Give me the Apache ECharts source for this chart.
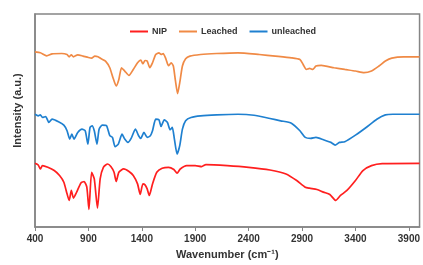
<!DOCTYPE html>
<html>
<head>
<meta charset="utf-8">
<script src="https://cdn.jsdelivr.net/npm/echarts@6/dist/echarts.min.js"></script>
<style>
    html, body { margin: 0; padding: 0; background: #fff; }
    #chart { width: 423px; height: 265px; }
</style>
</head>
<body>
<div id="chart"></div>
<script>
// FTIR spectra, intensity in arbitrary units (offset per sample)
const leachedWn = [400, 450, 510, 560, 650, 700, 720, 740, 760, 800, 850, 900, 930, 960, 990, 1020, 1060, 1100, 1130, 1160, 1185, 1210, 1240, 1280, 1320, 1360, 1390, 1410, 1430, 1450, 1475, 1500, 1530, 1560, 1580, 1600, 1625, 1650, 1675, 1695, 1715, 1735, 1755, 1780, 1810, 1850, 1950, 2100, 2300, 2500, 2650, 2800, 2880, 2910, 2940, 2970, 3000, 3030, 3080, 3200, 3300, 3400, 3480, 3550, 3620, 3680, 3740, 3850, 4000]
const leachedVal = [176, 175, 172, 174, 174.3, 173.3, 171, 173, 171, 173, 171.7, 170.3, 169.7, 171.7, 171, 169, 166.7, 160, 150, 141.7, 148.3, 160, 156.7, 152.3, 158.3, 165, 167.7, 164, 167.3, 166.7, 160, 165, 173.3, 175, 173.3, 174.3, 169, 162, 165, 161.7, 146.7, 134, 145, 161.7, 169, 171.7, 173.3, 174.3, 175, 173.3, 171.7, 170, 168.3, 163.3, 158.3, 159.3, 158.3, 161.7, 162.3, 160, 158.3, 156.7, 155, 156.7, 161.7, 166.7, 169.7, 171, 171]

const unleachedWn = [400, 430, 450, 470, 500, 530, 560, 620, 670, 700, 725, 745, 765, 800, 840, 870, 895, 915, 935, 955, 980, 1000, 1030, 1070, 1100, 1125, 1150, 1180, 1215, 1240, 1270, 1300, 1340, 1370, 1390, 1420, 1450, 1480, 1500, 1530, 1560, 1580, 1610, 1640, 1665, 1685, 1705, 1730, 1755, 1780, 1810, 1860, 1950, 2100, 2300, 2450, 2600, 2700, 2800, 2880, 2930, 2980, 3030, 3100, 3170, 3210, 3250, 3300, 3400, 3500, 3600, 3680, 3750, 4000]
const unleachedVal = [113.3, 111.7, 112.7, 110, 111, 105, 108.3, 105.7, 102.3, 96.7, 88.3, 93.3, 88.3, 95, 98.3, 96.7, 83.3, 100, 101.7, 96.7, 83.3, 98.3, 102.3, 101.7, 91.7, 90, 80.7, 83.3, 93.3, 88.3, 85, 89, 98.3, 91.7, 89, 95, 90, 91.7, 96.7, 108.3, 107.7, 101, 107.7, 105, 97.7, 100, 88.3, 73.3, 81.7, 98.3, 106.7, 110, 111.7, 112.7, 113.3, 112.3, 109, 106.7, 104.3, 96.7, 90, 89, 90, 87.7, 85, 82.3, 85, 85.7, 92.3, 100, 108.3, 112.7, 113.3, 113.3]

const nipWn = [400, 430, 450, 470, 520, 580, 630, 670, 700, 720, 740, 760, 790, 830, 860, 885, 905, 930, 955, 985, 1010, 1040, 1080, 1110, 1140, 1160, 1185, 1230, 1280, 1320, 1360, 1385, 1410, 1430, 1450, 1470, 1500, 1540, 1590, 1650, 1700, 1730, 1760, 1820, 1900, 1960, 2000, 2200, 2400, 2600, 2750, 2850, 2930, 2970, 3040, 3100, 3160, 3215, 3260, 3320, 3400, 3470, 3550, 3650, 4000]
const nipVal = [64, 62.3, 58.3, 61.7, 60, 56.7, 51.7, 45, 33.3, 26.7, 36.7, 29, 35, 44.3, 45.7, 40, 17.7, 55, 48.3, 19, 48.3, 60, 63.3, 60.7, 55, 45.7, 55, 58.3, 55.7, 51.7, 43.3, 32.7, 43.3, 42.3, 38.3, 31.7, 43.3, 55, 59, 60, 57.7, 54, 58.3, 61.7, 61.7, 60.7, 62.7, 61.7, 60, 57.3, 53.3, 46.7, 40, 39, 37.7, 35, 32.7, 26.7, 31.7, 36.7, 46.7, 56.7, 61.7, 63.7, 64]

const seriesNames = ["NIP", "Leached", "unleached"]
const seriesColors = ["#ff1f1f", "#f08a45", "#1f80d0"]

const zip = (xs, ys) => xs.map((x, i) => [x, ys[i]])
const seriesData = [
    zip(nipWn, nipVal),
    zip(leachedWn, leachedVal),
    zip(unleachedWn, unleachedVal),
]

const font = "Liberation Sans, Arial, sans-serif"
const frameColor = "#858585"

const chart = echarts.init(document.getElementById("chart"), null, { renderer: "canvas" })

chart.setOption({
    animation: false,
    backgroundColor: "#fff",
    textStyle: { fontFamily: font },
    grid: {
        left: 35, right: 2, top: 14, bottom: 37,
        show: true,
        borderColor: frameColor,
        borderWidth: 1.5,
        backgroundColor: "transparent",
    },
    legend: {
        left: 130,
        top: 27,
        padding: 0,
        icon: "rect",
        itemWidth: 18,
        itemHeight: 2,
        itemGap: 12,
        textStyle: { fontSize: 9, fontWeight: "bold", color: "#333", fontFamily: font, padding: [0, 0, 0, -1] },
        data: seriesNames,
    },
    xAxis: {
        type: "value",
        min: 400,
        max: 4000,
        interval: 500,
        name: "Wavenumber (cm\u207B\u00B9)",
        nameLocation: "middle",
        nameGap: 22,
        nameTextStyle: { fontSize: 11, fontWeight: "bold", color: "#333", fontFamily: font },
        axisLine: { show: true, lineStyle: { color: frameColor, width: 1.5 } },
        axisTick: { show: true, inside: false, length: 4, lineStyle: { color: frameColor } },
        axisLabel: {
            margin: 7,
            fontSize: 10,
            fontWeight: "bold",
            color: "#333",
            showMaxLabel: false,
            formatter: v => (v === 4000 ? "" : String(v)),
        },
        splitLine: { show: false },
    },
    yAxis: {
        type: "value",
        min: 0,
        max: 214,
        name: "Intensity (a.u.)",
        nameLocation: "middle",
        nameGap: 12,
        nameTextStyle: { fontSize: 11, fontWeight: "bold", color: "#333", fontFamily: font, padding: [0, 0, 0, 20] },
        axisLine: { show: true, lineStyle: { color: frameColor, width: 1.5 } },
        axisTick: { show: false },
        axisLabel: { show: false },
        splitLine: { show: false },
    },
    series: seriesNames.map((name, i) => ({
        name,
        type: "line",
        data: seriesData[i],
        smooth: 0.2,
        symbol: "none",
        color: seriesColors[i],
        lineStyle: { width: 1.7, color: seriesColors[i] },
    })),
})
</script>
</body>
</html>
